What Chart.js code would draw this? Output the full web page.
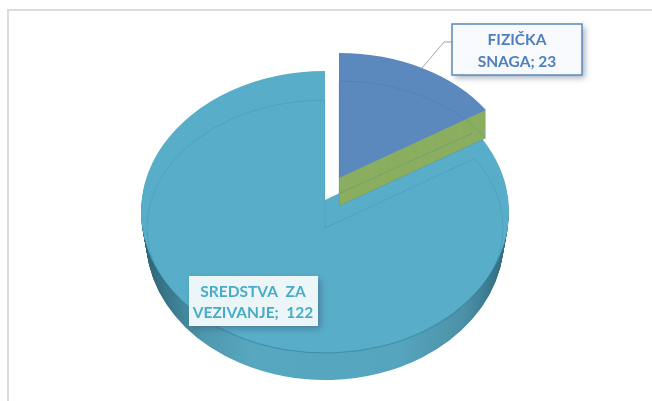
<!DOCTYPE html>
<html><head><meta charset="utf-8">
<style>html,body{margin:0;padding:0;background:#fff}#w{width:652px;height:401px;position:relative}</style>
<script src="https://cdn.jsdelivr.net/npm/chart.js@4"></script>
</head><body><div id="w"><canvas id="c" width="652" height="401"></canvas></div>
<script>
const categories = ['FIZIČKA SNAGA', 'SREDSTVA ZA VEZIVANJE'];
const values = [23, 122];
const sliceColors = ['#5b88bd', '#58aec9'];

const DEPTH = 28, WALL = 27;
const blueGeom = {ax: 339, ay: 178, rx: 175, up: 125, down: 125};
const bigFace = {ax: 325, ay: 212, rx: 184, up: 141, down: 141};
const bigApex = {ax: 325, ay: 200, rx: 184, up: 129, down: 153};
const bigBase = {ax: 325, ay: 228, rx: 178, up: 128, down: 125};

function ghostOf(el, over) {
  const g = Object.create(el);
  g.options = Object.assign({}, el.options, {borderWidth: 0}, over);
  return g;
}
function drawPiece(ctx, el, ghost, p, shift) {
  const r = el.outerRadius, y = p.ay + shift;
  [[-1000, y + 1000, p.up], [y, 1000, p.down]].forEach(([y0, h, ry]) => {
    ctx.save();
    ctx.beginPath(); ctx.rect(0, y0, 652, h); ctx.clip();
    ctx.translate(p.ax, y);
    ctx.scale(p.rx / r, ry / r);
    ctx.translate(-el.x, -el.y);
    ghost.draw(ctx);
    ctx.restore();
  });
}
function clipped(ctx, x, y, w, h, fn) {
  ctx.save();
  ctx.beginPath(); ctx.rect(x, y, w, h); ctx.clip();
  fn();
  ctx.restore();
}
function calloutBox(ctx, x, y, w, h, fill, border) {
  ctx.save();
  ctx.shadowColor = 'rgba(60,80,110,0.45)';
  ctx.shadowBlur = 6; ctx.shadowOffsetX = 3; ctx.shadowOffsetY = 3;
  ctx.fillStyle = fill;
  ctx.fillRect(x, y, w, h);
  ctx.restore();
  if (border) {
    ctx.strokeStyle = border; ctx.lineWidth = 1.5;
    ctx.strokeRect(x, y, w, h);
  }
}
const pie3d = {
  id: 'pie3d',
  beforeDraw(chart) {
    const ctx = chart.ctx;
    ctx.save();
    ctx.fillStyle = '#fff'; ctx.fillRect(0, 0, 652, 401);
    ctx.strokeStyle = '#dcdcdc'; ctx.lineWidth = 2;
    ctx.beginPath(); ctx.moveTo(8, 401); ctx.lineTo(8, 10); ctx.lineTo(652, 10); ctx.stroke();
    ctx.restore();
  },
  beforeDatasetsDraw(chart) {
    const ctx = chart.ctx, els = chart.getDatasetMeta(0).data;
    const big = els[1], blue = els[0], r = big.outerRadius;
    // side wall of the large slice: extruded towards a slightly narrower base
    const grad = ctx.createLinearGradient(big.x - r, 0, big.x + r, 0);
    grad.addColorStop(0, '#2c6273');
    grad.addColorStop(0.08, '#3c7c90');
    grad.addColorStop(0.16, '#4e98af');
    grad.addColorStop(0.3, '#57a7c0');
    grad.addColorStop(0.7, '#56a5be');
    grad.addColorStop(0.88, '#4c92a8');
    grad.addColorStop(1, '#2f6b7e');
    const wall = ghostOf(big, {backgroundColor: grad});
    for (let d = WALL; d >= 1; d--) {
      const t = d / WALL;
      drawPiece(ctx, big, wall, Object.assign({}, bigFace, {rx: bigFace.rx - 5 * t}), d);
    }
    const face = ghostOf(big, {});
    drawPiece(ctx, big, face, bigFace, 0);
    clipped(ctx, 325, 188, 30, 30, () => drawPiece(ctx, big, face, bigApex, 0));
    // rim between the top face and the wall, front part only
    clipped(ctx, 0, 240, 652, 161, () => drawPiece(ctx, big,
      ghostOf(big, {backgroundColor: 'transparent', borderColor: 'rgba(40,105,130,0.45)', borderWidth: 1}), bigFace, 0));
    // wall of the exploded slice
    const greenWall = ghostOf(blue, {backgroundColor: '#8bae60'});
    for (let d = DEPTH; d >= 1; d--) drawPiece(ctx, blue, greenWall, blueGeom, d);
    drawPiece(ctx, blue, ghostOf(blue, {}), blueGeom, 0);
    // faint see-through outlines
    const faint = {backgroundColor: 'transparent', borderColor: 'rgba(45,115,150,0.28)', borderWidth: 1};
    drawPiece(ctx, big, ghostOf(big, faint), bigBase, 0);
    drawPiece(ctx, blue, ghostOf(blue, faint), blueGeom, DEPTH);
    clipped(ctx, 330, 120, 142, 90, () => drawPiece(ctx, big, ghostOf(big, faint), bigApex, 0));
    return false;
  },
  afterDraw(chart) {
    const ctx = chart.ctx;
    ctx.save();
    ctx.strokeStyle = '#a6a6a6'; ctx.lineWidth = 1;
    ctx.beginPath(); ctx.moveTo(422, 68); ctx.lineTo(444, 42); ctx.lineTo(452, 42); ctx.stroke();
    calloutBox(ctx, 452, 24, 130, 51, '#f7f9fc', '#5b88bd');
    calloutBox(ctx, 189, 276, 129, 50, '#ecf5f8', null);
    ctx.textAlign = 'center'; ctx.textBaseline = 'middle';
    ctx.font = 'bold 15.5px Lato';
    ctx.fillStyle = '#4f7fbd';
    ctx.fillText('FIZIČKA', 517, 40);
    ctx.fillText('SNAGA; ' + values[0], 517, 62);
    ctx.fillStyle = '#46adc8';
    ctx.fillText('SREDSTVA  ZA', 253, 292);
    ctx.fillText('VEZIVANJE;  ' + values[1], 253, 313);
    ctx.restore();
  }
};
new Chart(document.getElementById('c'), {
  type: 'pie',
  data: {labels: categories, datasets: [{data: values, backgroundColor: sliceColors, borderWidth: 0}]},
  options: {
    responsive: false, animation: false,
    plugins: {legend: {display: false}, tooltip: {enabled: false}}
  },
  plugins: [pie3d]
});
</script></body></html>
